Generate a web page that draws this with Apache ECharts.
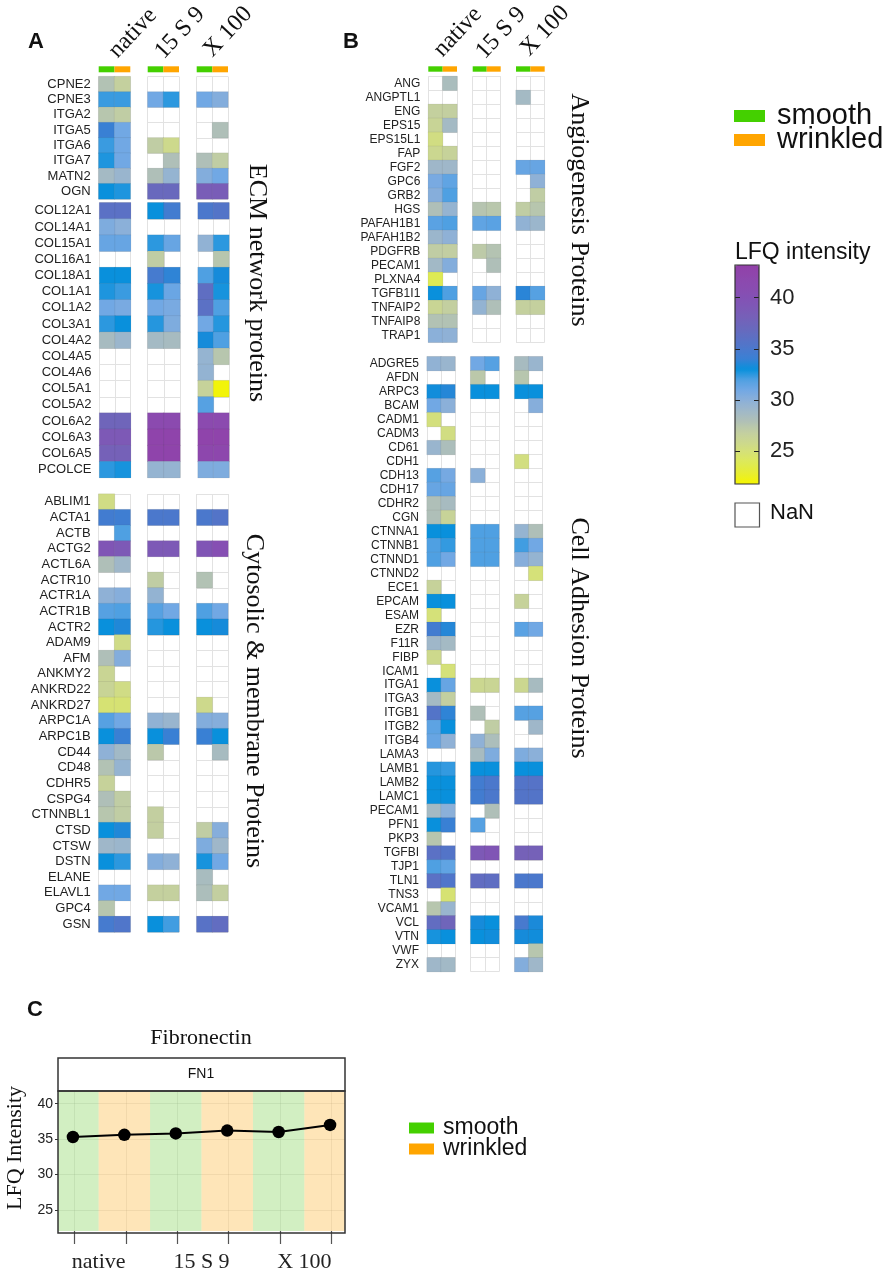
<!DOCTYPE html>
<html><head><meta charset="utf-8">
<style>html,body{margin:0;padding:0;background:#fff}#c{width:886px;height:1273px}</style>
<script src="https://cdn.jsdelivr.net/npm/echarts@6/dist/echarts.min.js"></script>
</head><body><div id="c"></div>
<script>
const _ = null;
const conditions = ['native', '15 S 9', 'X 100'];
const surfaces = ['smooth', 'wrinkled'];

// Each row: native smooth/wrinkled, 15 S 9 smooth/wrinkled, X 100 smooth/wrinkled
const genesA1 = ['CPNE2','CPNE3','ITGA2','ITGA5','ITGA6','ITGA7','MATN2','OGN'];
const valuesA1 = [
 [27.8,26.7,_,_,_,_],[32.3,32.3,31,32.5,31,30.3],[27.5,27,_,_,_,_],[34,31,_,_,_,28],
 [32.3,31,27,25.8,_,_],[32.7,31,_,28,28,27],[28.7,29.3,28,29.5,30.3,31],[33,32.7,37,37,38.5,38.5]];
const genesA2 = ['COL12A1','COL14A1','COL15A1','COL16A1','COL18A1','COL1A1','COL1A2','COL3A1','COL4A2','COL4A5','COL4A6','COL5A1','COL5A2','COL6A2','COL6A3','COL6A5','PCOLCE'];
const valuesA2 = [
 [36,36,33,34.5,35,35.5],[30.5,30,_,_,_,_],[31.3,31.3,32.5,31.3,29.7,32.5],[_,_,27,_,_,27.5],
 [33,33,34.7,33.8,32,33.3],[32.7,32.3,32.8,31.2,36.3,32.8],[31,30.7,31,30.7,36,32],[32.5,33,32.6,30.5,31,32.6],
 [28.5,29.2,28.7,28.5,33.3,32],[_,_,_,_,29.5,27.5],[_,_,_,_,29.6,_],[_,_,_,_,26.5,22],[_,_,_,_,31.8,_],
 [37.5,37.5,41.5,41.5,41.5,41.5],[39,39,42.5,42.5,42.5,42.5],[38,38,42.5,42.5,42,42],[32.5,32.8,29.5,29.5,30.5,30.5]];
const genesA3 = ['ABLIM1','ACTA1','ACTB','ACTG2','ACTL6A','ACTR10','ACTR1A','ACTR1B','ACTR2','ADAM9','AFM','ANKMY2','ANKRD22','ANKRD27','ARPC1A','ARPC1B','CD44','CD48','CDHR5','CSPG4','CTNNBL1','CTSD','CTSW','DSTN','ELANE','ELAVL1','GPC4','GSN'];
const valuesA3 = [
 [25.5,_,_,_,_,_],[34.5,34.3,35,35,35,35.5],[_,32,_,_,_,_],[39.5,39,39,39,39.5,40.5],[28,29,_,_,_,_],
 [_,_,27,_,27.8,_],[29.8,30.2,29.6,_,_,_],[31.8,32,31.8,31,32,31],[33,33.5,32.6,33,33,33.3],[_,25.6,_,_,_,_],
 [28,30.3,_,_,_,_],[26.2,_,_,_,_,_],[26.3,25.5,_,_,_,_],[24.8,24.8,_,_,25.8,_],[31.8,31,29.7,29.3,30.3,30.2],
 [33,34,33,34,34,33],[29.8,28.8,27.3,_,_,28.5],[27.8,29.5,_,_,_,_],[26.5,_,_,_,_,_],[28,27,_,_,_,_],
 [27.5,27,26.8,_,_,_],[33,33.5,26.8,_,27,30.2],[29,29.2,_,_,30.5,29],[33,32.5,30.3,29.8,32.8,31],
 [_,_,_,_,28.4,_],[31,31,26.7,26.7,28.2,26.8],[27.5,_,_,_,_,_],[34.7,35.3,33,32.2,35.8,36.5]];
const genesB1 = ['ANG','ANGPTL1','ENG','EPS15','EPS15L1','FAP','FGF2','GPC6','GRB2','HGS','PAFAH1B1','PAFAH1B2','PDGFRB','PECAM1','PLXNA4','TGFB1I1','TNFAIP2','TNFAIP8','TRAP1'];
const valuesB1 = [
 [_,28.3,_,_,_,_],[_,_,_,_,28.7,_],[26.7,26.8,_,_,_,_],[26.3,28.7,_,_,_,_],[25.4,_,_,_,_,_],[26,26.5,_,_,_,_],
 [29,29,_,_,31.3,31.3],[30.7,31.5,_,_,_,29.8],[30.2,32,_,_,_,27],[28,29.5,27.6,27.4,27,27.5],
 [31.7,32,31.5,31.7,29.7,29.2],[29.2,29.8,_,_,_,_],[27,26.9,27.2,27.7,_,_],[28.8,30.3,_,28,_,_],[23.8,_,_,_,_,_],
 [33,32,31.3,29.8,33.7,31.8],[26.2,26.8,29.6,28,26.7,26.7],[27.8,27.8,_,_,_,_],[30,29.8,_,_,_,_]];
const genesB2 = ['ADGRE5','AFDN','ARPC3','BCAM','CADM1','CADM3','CD61','CDH1','CDH13','CDH17','CDHR2','CGN','CTNNA1','CTNNB1','CTNND1','CTNND2','ECE1','EPCAM','ESAM','EZR','F11R','FIBP','ICAM1','ITGA1','ITGA3','ITGB1','ITGB2','ITGB4','LAMA3','LAMB1','LAMB2','LAMC1','PECAM1','PFN1','PKP3','TGFBI','TJP1','TLN1','TNS3','VCAM1','VCL','VTN','VWF','ZYX'];
const valuesB2 = [
 [29.7,29.3,31,31.8,28.5,29.3],[_,_,27.3,_,27.5,_],[33.2,33.6,33,33,33,33],[31,30,_,_,_,30.2],[25.2,_,_,_,_,_],
 [_,25.4,_,_,_,_],[29.3,28.2,_,_,_,_],[_,_,_,_,25.3,_],[31.8,30.8,30,_,_,_],[31.3,31.3,_,_,_,_],[28,28.5,_,_,_,_],
 [28,26.4,_,_,_,_],[33,33,32,32,29.5,28],[32,32.4,32,32,32.2,31],[32,31,32,32,30.2,29.5],[_,_,_,_,_,25],
 [26.5,_,_,_,_,_],[33,33,_,_,26.5,_],[25,_,_,_,_,_],[34.5,33.6,_,_,31.7,31],[29,28.7,_,_,_,_],[25.8,_,_,_,_,_],
 [_,25,_,_,_,_],[33,31.3,26,26.2,26,28.5],[28.7,26.8,_,_,_,_],[35.5,33.8,28,_,31.8,31.8],[31.6,33,_,27,_,29],
 [31.3,29.8,29.8,28.2,_,_],[_,_,28.5,30.5,30.5,30],[32.6,32.4,33,33,33,33],[33,33,34.5,35,35.5,35.7],
 [33,33,34.5,35,35.5,35.5],[28.7,30,_,28,_,_],[33,34,31.8,_,_,_],[27.5,_,_,_,_,_],[36,35.5,39,39.5,38,38],
 [32,31.5,_,_,_,_],[36,35.3,36.5,36.3,35,35],[_,24.8,_,_,_,_],[27.5,29.3,_,_,_,_],[36.5,37.5,33.3,33,34.8,33.4],
 [32.8,33,33,33.2,33.3,33.2],[_,_,_,_,_,27.5],[29,28.8,_,_,30.3,29]];

const colorbarTicks = [25, 30, 35, 40];
const fnPositions = [1, 2, 3, 4, 5, 6];
const fnValues = [35.3, 35.6, 35.8, 36.2, 36.0, 37.0];
const fnTickPositions = [1.03, 2.03, 3.02, 4.02, 5.03, 6.02];
const fnAxisTicks = [25, 30, 35, 40];
const fnLabelPositions = [1.5, 3.5, 5.5];
const smoothBands = [[0.71, 1.5], [2.5, 3.5], [4.5, 5.5]];
const wrinkledBands = [[1.5, 2.5], [3.5, 4.5], [5.5, 6.29]];

const ramp = ['#f5f500','#e8ee30','#deea55','#d6e275','#ccd88e','#c2cea2','#b0c0b6','#a0b8c8','#8cb0d8','#72a8e4','#50a0e2',
 '#0890dc','#3a80d4','#4c78cc','#5c70c4','#6a68bc','#7660b8','#7e58b6','#8450b4','#8a4cb0','#8e46ac','#9240a8'];
const SANS = '"Liberation Sans", Arial, sans-serif', SERIF = '"Liberation Serif", "Times New Roman", serif';
const GREEN = '#44d000', ORANGE = '#ffa500', INK = '#222';

const colsA = [[98.7,130.3],[147.7,179],[196.7,228]];
const colsA2 = [[99.5,130.7],[147.7,180],[198,229]];
const colsB = [[428.3,457],[472.7,500.7],[516,544.7]];
const colsB2 = [[427,455],[470.7,499],[514.7,542.7]];
const blocks = [
 {genes:genesA1, values:valuesA1, top:76.6, bottom:199, cols:colsA, font:13},
 {genes:genesA2, values:valuesA2, top:202.7, bottom:477.7, cols:colsA2, font:13},
 {genes:genesA3, values:valuesA3, top:494, bottom:932, cols:colsA, font:13},
 {genes:genesB1, values:valuesB1, top:76.3, bottom:342.3, cols:colsB, font:12},
 {genes:genesB2, values:valuesB2, top:356.7, bottom:971.7, cols:colsB2, font:12}
];
const strips = [{cols:colsA, top:66.3, height:6},{cols:colsB, top:66.3, height:5.4}];

const grid=[], xAxis=[], yAxis=[], series=[], heatIdx=[];
function addGrid(g,x,y){grid.push(g);xAxis.push(Object.assign({gridIndex:grid.length-1},x));yAxis.push(Object.assign({gridIndex:grid.length-1},y));return grid.length-1;}
const hiddenCat = {type:'category', axisLine:{show:false}, axisTick:{show:false}, axisLabel:{show:false}};
const cellLine = {show:true, interval:0, lineStyle:{color:'#e2e2e2', width:1}};

blocks.forEach(b=>{
  b.cols.forEach((c,ci)=>{
    const i = addGrid({left:c[0],top:b.top,width:c[1]-c[0],height:b.bottom-b.top},
      Object.assign({},hiddenCat,{data:surfaces,splitLine:cellLine}),
      Object.assign({},hiddenCat,{data:b.genes,inverse:true,splitLine:cellLine,
        axisLabel:{show:ci===0,interval:0,fontFamily:SANS,fontSize:b.font,color:INK,margin:8}}));
    const data=[];
    b.values.forEach((row,ri)=>{[0,1].forEach(k=>{const v=row[ci*2+k]; if(v!==null) data.push([k,ri,v]);});});
    heatIdx.push(series.length);
    series.push({type:'heatmap',xAxisIndex:i,yAxisIndex:i,data,silent:true,
      itemStyle:{borderColor:'rgba(70,70,70,0.14)',borderWidth:0.6}});
  });
});
strips.forEach(s=>{
  s.cols.forEach(c=>{
    const i = addGrid({left:c[0],top:s.top,width:c[1]-c[0],height:s.height},
      Object.assign({},hiddenCat,{data:surfaces}),
      {type:'value',min:0,max:1,show:false});
    series.push({type:'bar',name:'strip',xAxisIndex:i,yAxisIndex:i,barWidth:'100%',silent:true,
      data:[{value:1,itemStyle:{color:GREEN}},{value:1,itemStyle:{color:ORANGE}}]});
  });
});

// Panel C
const gridFaint = {color:'rgba(140,140,140,0.16)',width:1};
const pc = addGrid({left:58,top:1091,width:287,height:142},
  {type:'value',min:0.71,max:6.29,
   axisLine:{show:false},
   axisTick:{show:true,length:13,customValues:fnTickPositions,lineStyle:{color:'#555',width:1.2}},
   splitLine:{show:true,lineStyle:gridFaint},
   axisLabel:{show:true,customValues:fnLabelPositions,margin:20,fontFamily:SERIF,fontSize:22,color:INK,
     formatter:v=>conditions[fnLabelPositions.indexOf(v)]}},
  {type:'value',min:22,max:41.8,
   axisLine:{show:false},
   axisTick:{show:true,length:3,customValues:fnAxisTicks,lineStyle:{color:'#333'}},
   splitLine:{show:true,lineStyle:gridFaint},
   axisLabel:{show:true,customValues:fnAxisTicks,fontFamily:SANS,fontSize:14,color:INK,margin:5}});
const bandArea = bands => ({silent:true,data:bands.map(b=>[{xAxis:b[0]},{xAxis:b[1]}])});
series.push({type:'line',name:'smooth',xAxisIndex:pc,yAxisIndex:pc,data:[],silent:true,z:1,
  itemStyle:{color:GREEN},markArea:Object.assign(bandArea(smoothBands),{itemStyle:{color:'rgba(68,190,0,0.24)'}})});
series.push({type:'line',name:'wrinkled',xAxisIndex:pc,yAxisIndex:pc,data:[],silent:true,z:1,
  itemStyle:{color:ORANGE},markArea:Object.assign(bandArea(wrinkledBands),{itemStyle:{color:'rgba(250,160,0,0.28)'}})});
series.push({type:'line',name:'FN1',xAxisIndex:pc,yAxisIndex:pc,z:5,silent:true,
  data:fnPositions.map((p,i)=>[p,fnValues[i]]),symbol:'circle',symbolSize:12.5,
  lineStyle:{color:'#000',width:2},itemStyle:{color:'#000'}});

// Colour bar axes (added last so that axis indices above stay equal to grid indices)
const cb = addGrid({left:735,top:265,width:24,height:219},
  {type:'category',show:false,data:['']},
  {type:'value',min:21.8,max:43.2,position:'left',z:6,
   axisLine:{show:false},splitLine:{show:false},axisLabel:{show:false},
   axisTick:{show:true,inside:true,length:5,customValues:colorbarTicks,lineStyle:{color:'#222',width:1}}});
yAxis.push({gridIndex:cb,type:'value',min:21.8,max:43.2,position:'right',z:6,
   axisLine:{show:false},splitLine:{show:false},
   axisTick:{show:true,inside:true,length:5,customValues:colorbarTicks,lineStyle:{color:'#222',width:1}},
   axisLabel:{show:true,customValues:colorbarTicks,fontFamily:SANS,fontSize:22,color:INK,margin:11}});

function vtext(t,x,y,size,rot,font,weight){return {type:'text',x,y,rotation:rot,silent:true,z:20,
  style:{text:t,fontFamily:font,fontSize:size,fontWeight:weight||'normal',fill:'#111',textAlign:'center',textVerticalAlign:'middle'}};}
const Q = Math.PI/180;
const graphic = [
  vtext('A',36,42,22,0,SANS,'bold'),vtext('B',351,42,22,0,SANS,'bold'),vtext('C',35,1010,22,0,SANS,'bold'),
  vtext('native',133,33,24,47*Q,SERIF),vtext('15 S 9',180,33,24,47*Q,SERIF),vtext('X 100',228,32,24,47*Q,SERIF),
  vtext('native',458,32,24,47*Q,SERIF),vtext('15 S 9',501,33,24,47*Q,SERIF),vtext('X 100',545,31,24,47*Q,SERIF),
  vtext('ECM network proteins',257,283,26,-90*Q,SERIF),
  vtext('Cytosolic & membrane Proteins',254,701,26,-90*Q,SERIF),
  vtext('Angiogenesis Proteins',579,210,26,-90*Q,SERIF),
  vtext('Cell Adhesion Proteins',579,638,26,-90*Q,SERIF),
  {type:'text',x:735,y:253,silent:true,style:{text:'LFQ intensity',fontFamily:SANS,fontSize:23,fill:'#111',textVerticalAlign:'middle'}},
  {type:'rect',shape:{x:735,y:265,width:24,height:219},silent:true,z:20,style:{fill:'none',stroke:'#333',lineWidth:1.2}},
  {type:'rect',shape:{x:735,y:503,width:24.5,height:24},silent:true,style:{fill:'#fff',stroke:'#555',lineWidth:1.2}},
  {type:'text',x:770,y:513,silent:true,style:{text:'NaN',fontFamily:SANS,fontSize:22,fill:'#111',textVerticalAlign:'middle'}},
  {type:'rect',shape:{x:58,y:1058,width:287,height:33},silent:true,z:20,style:{fill:'#fff',stroke:'#333',lineWidth:1.5}},
  vtext('FN1',201,1074,14,0,SANS),
  vtext('Fibronectin',201,1038,22,0,SERIF),
  vtext('LFQ Intensity',15,1148,22,90*Q,SERIF),
  {type:'rect',shape:{x:58,y:1091,width:287,height:142},silent:true,z:20,style:{fill:'none',stroke:'#333',lineWidth:1.5}}
];

const legendItem = (name,color)=>({name,icon:'rect',itemStyle:{color,opacity:1,borderWidth:0}});
const option = {
  animation:false, backgroundColor:'#fff', grid, xAxis, yAxis, series, graphic,
  visualMap:[{type:'continuous',show:true,seriesIndex:heatIdx,min:21.8,max:43.2,left:735,top:265,itemWidth:24,itemHeight:219,
    padding:0,calculable:false,hoverLink:false,inRange:{color:ramp},textStyle:{fontSize:10}}],
  legend:[
   {left:734,top:101.5,padding:0,orient:'vertical',selectedMode:false,icon:'rect',itemWidth:31,itemHeight:12,itemGap:-5,
    data:[legendItem('smooth',GREEN),legendItem('wrinkled',ORANGE)],
    textStyle:{fontFamily:SANS,fontSize:29,color:'#111',padding:[0,0,0,7]}},
   {left:409,top:1116.5,padding:0,orient:'vertical',selectedMode:false,icon:'rect',itemWidth:25,itemHeight:11,itemGap:-2,
    data:[legendItem('smooth',GREEN),legendItem('wrinkled',ORANGE)],
    textStyle:{fontFamily:SANS,fontSize:23,color:'#111',padding:[0,0,0,4]}}
  ]
};
const chart = echarts.init(document.getElementById('c'),null,{renderer:'canvas'});
chart.setOption(option);
</script></body></html>
